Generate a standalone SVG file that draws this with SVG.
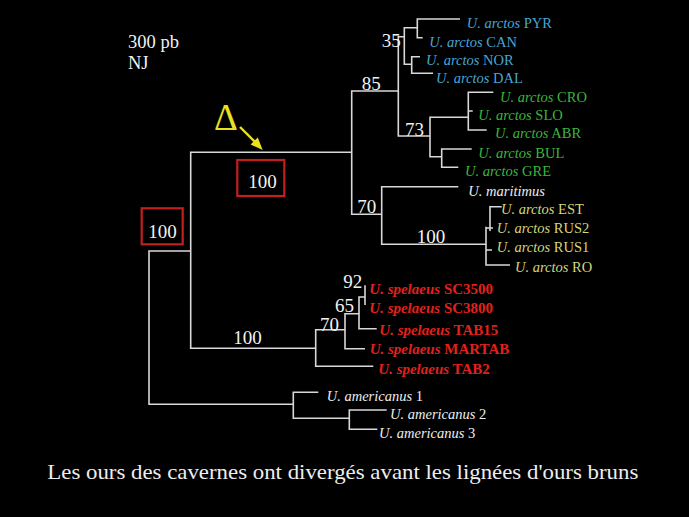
<svg xmlns="http://www.w3.org/2000/svg" width="689" height="517" viewBox="0 0 689 517">
<style>
text{font-family:"Liberation Serif","Times New Roman",serif}
.br{fill:none;stroke:#d8d8d8;stroke-width:1.6}
.num{fill:#f2f2f2;font-size:19px}
.sp{font-size:14.5px}
.it{font-style:italic}
.blue{fill:#46a6d6}
.green{fill:#3cb53c}
.yel{fill:#d6d67a}
.wht{fill:#eeeeee}
.red{fill:#e2201c;font-weight:bold;font-size:15px}
.box{fill:none;stroke:#c41e1e;stroke-width:2.2}
.hdr{fill:#f2f2f2;font-size:18.5px}
</style>
<rect width="689" height="517" fill="#000"/>
<g id="connectors">
<path class="br" d="M190.7,251 H149 V404.3 H293.3"/>
<path class="br" d="M351.7,152.3 H190.7 V348.3 H315.7"/>
<path class="br" d="M398.3,91 H351.7 V214.3 H381.7"/>
<path class="br" d="M404.3,36.7 H398.3 V136 H430"/>
<path class="br" d="M417.3,27.7 H404.3 V64.3 H411.7"/>
<path class="br" d="M460,19 H417.3 V37.7 H422.7"/>
<path class="br" d="M420,56.7 H411.7 V73.3 H433"/>
<path class="br" d="M468.3,117.3 H430 V156.7 H441.7"/>
<path class="br" d="M493.3,92.3 H468.3 V130 H486.7 M468.3,111 H472.7"/>
<path class="br" d="M471.7,149 H441.7 V167.3 H458.3"/>
<path class="br" d="M458.3,186.7 H381.7 V244.3 H486"/>
<path class="br" d="M501.7,206.7 H490 V231 M486,226.7 V265 H510 M486,228 H493 M486,250 H492"/>
<path class="br" d="M345,329.7 H315.7 V366.3 H373.3"/>
<path class="br" d="M359,313.7 H345 V348.7 H365"/>
<path class="br" d="M365,297 H359 V328.7 H376.7"/>
<path class="br" d="M365,285.3 V305"/>
<path class="br" d="M318.3,392.3 H293.3 V418.3 H349.3"/>
<path class="br" d="M386.7,410 H349.3 V429.3 H377.3"/>
</g>
<g id="header">
<text class="hdr" x="128" y="48">300 pb</text>
<text class="hdr" x="128" y="69">NJ</text>
</g>
<g id="delta-marker">
<text x="214" y="130" fill="#e8e020" font-size="37">Δ</text>
<line x1="240" y1="127" x2="255.5" y2="142.5" stroke="#e8e020" stroke-width="2.4"/>
<polygon points="262.7,150 250.6,144.6 257.8,137.6" fill="#e8e020"/>
</g>
<g id="support-values">
<text class="num" x="381.7" y="46.7">35</text>
<text class="num" x="361.7" y="90.3">85</text>
<text class="num" x="405" y="135.7">73</text>
<text class="num" x="357.3" y="213.3">70</text>
<text class="num" x="416.7" y="242.7">100</text>
<text class="num" x="233.3" y="344">100</text>
<text class="num" x="343.3" y="288.3">92</text>
<text class="num" x="335" y="311.7">65</text>
<text class="num" x="320" y="331">70</text>
</g>
<g id="boxed-100-upper">
<rect class="box" x="237.3" y="160" width="47" height="36"/>
<text class="num" x="248.3" y="188.3">100</text>
</g>
<g id="boxed-100-root">
<rect class="box" x="141.7" y="208.3" width="41" height="36"/>
<text class="num" x="148.3" y="238.3">100</text>
</g>
<g id="arctos-PYR"><text class="sp blue" x="466.7" y="28.3"><tspan class="it">U. arctos</tspan> PYR</text></g>
<g id="arctos-CAN"><text class="sp blue" x="429.3" y="46.5"><tspan class="it">U. arctos</tspan> CAN</text></g>
<g id="arctos-NOR"><text class="sp blue" x="426" y="65"><tspan class="it">U. arctos</tspan> NOR</text></g>
<g id="arctos-DAL"><text class="sp blue" x="436" y="82.5"><tspan class="it">U. arctos</tspan> DAL</text></g>
<g id="arctos-CRO"><text class="sp green" x="500" y="101.7"><tspan class="it">U. arctos</tspan> CRO</text></g>
<g id="arctos-SLO"><text class="sp green" x="478.3" y="120"><tspan class="it">U. arctos</tspan> SLO</text></g>
<g id="arctos-ABR"><text class="sp green" x="495" y="138.3"><tspan class="it">U. arctos</tspan> ABR</text></g>
<g id="arctos-BUL"><text class="sp green" x="478.3" y="157.7"><tspan class="it">U. arctos</tspan> BUL</text></g>
<g id="arctos-GRE"><text class="sp green" x="465" y="176"><tspan class="it">U. arctos</tspan> GRE</text></g>
<g id="maritimus"><text class="sp wht it" x="468.3" y="195.7">U. maritimus</text></g>
<g id="arctos-EST"><text class="sp yel" x="501" y="214.3"><tspan class="it">U. arctos</tspan> EST</text></g>
<g id="arctos-RUS2"><text class="sp yel" x="496.7" y="233.3"><tspan class="it">U. arctos</tspan> RUS2</text></g>
<g id="arctos-RUS1"><text class="sp yel" x="496.7" y="251.7"><tspan class="it">U. arctos</tspan> RUS1</text></g>
<g id="arctos-RO"><text class="sp yel" x="515" y="271.7"><tspan class="it">U. arctos</tspan> RO</text></g>
<g id="spelaeus-SC3500"><text class="red" x="369.3" y="294"><tspan class="it">U. spelaeus</tspan> SC3500</text></g>
<g id="spelaeus-SC3800"><text class="red" x="369.3" y="312.7"><tspan class="it">U. spelaeus</tspan> SC3800</text></g>
<g id="spelaeus-TAB15"><text class="red" x="379.3" y="335"><tspan class="it">U. spelaeus</tspan> TAB15</text></g>
<g id="spelaeus-MARTAB"><text class="red" x="369.7" y="354"><tspan class="it">U. spelaeus</tspan> MARTAB</text></g>
<g id="spelaeus-TAB2"><text class="red" x="378.3" y="374"><tspan class="it">U. spelaeus</tspan> TAB2</text></g>
<g id="americanus-1"><text class="sp wht" x="326.7" y="400.7"><tspan class="it">U. americanus</tspan> 1</text></g>
<g id="americanus-2"><text class="sp wht" x="390" y="419.3"><tspan class="it">U. americanus</tspan> 2</text></g>
<g id="americanus-3"><text class="sp wht" x="379" y="437.7"><tspan class="it">U. americanus</tspan> 3</text></g>
<g id="caption"><text x="47.3" y="479.3" fill="#eeeeee" font-size="22" textLength="591" lengthAdjust="spacingAndGlyphs">Les ours des cavernes ont divergés avant les lignées d'ours bruns</text></g>
</svg>
